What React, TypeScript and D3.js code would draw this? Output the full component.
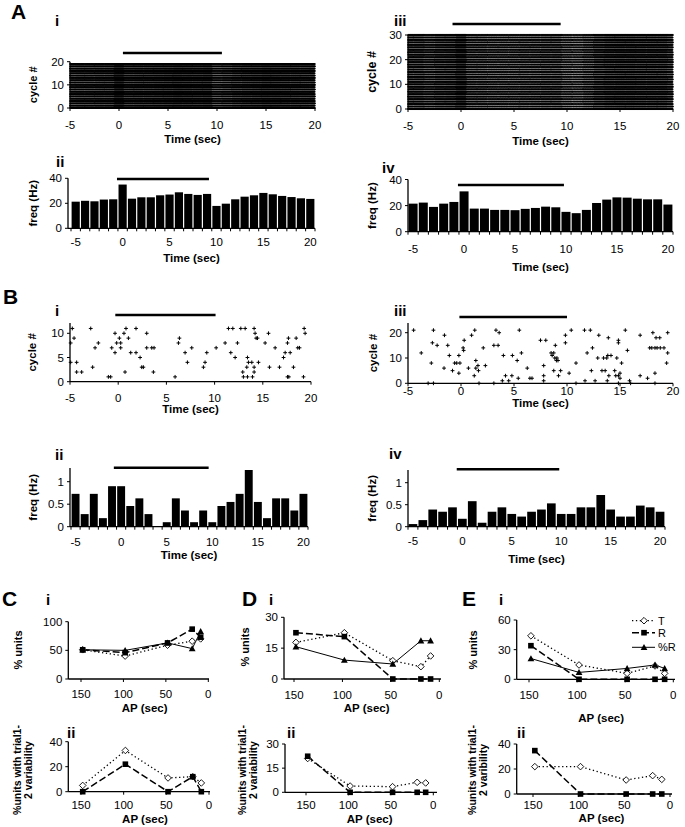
import React from 'react';
import * as d3 from 'd3';

const FONT = '"Liberation Sans", Arial, Helvetica, sans-serif';

// ---------------- data ----------------
const binCenters = [-5, -4, -3, -2, -1, 0, 1, 2, 3, 4, 5, 6, 7, 8, 9, 10, 11, 12, 13, 14, 15, 16, 17, 18, 19, 20];
const timeTicks = [-5, 0, 5, 10, 15, 20];

// firing-rate histograms (Hz), one value per 1-s bin
const freqAii = [21.3, 22, 21.6, 23, 23.2, 35, 23.7, 24.8, 24.8, 26.4, 27, 28.8, 27.5, 26.7, 27.5, 17.9, 19.7, 23.2, 25.3, 26.4, 28.3, 27.2, 25.9, 25, 24, 23.5];
const freqAiv = [21.5, 22.3, 19, 21.5, 22.8, 30.9, 17.7, 17.7, 16.7, 16.7, 16.5, 17.5, 18.2, 19.2, 18.7, 15.2, 14.2, 16.7, 22, 24.6, 26.3, 26.1, 25.3, 24.8, 24.8, 20.8];
const freqBii = [0.73, 0.28, 0.73, 0.19, 0.9, 0.9, 0.46, 0.63, 0.28, 0, 0.1, 0.63, 0.36, 0.1, 0.36, 0.1, 0.46, 0.55, 0.73, 1.26, 0.55, 0.19, 0.63, 0.63, 0.36, 0.73];
const freqBiv = [0.06, 0.15, 0.39, 0.34, 0.44, 0.18, 0.58, 0.09, 0.34, 0.44, 0.29, 0.23, 0.34, 0.39, 0.53, 0.29, 0.29, 0.44, 0.44, 0.72, 0.39, 0.23, 0.23, 0.48, 0.44, 0.34];

// number of cycles in the dense rasters A-i / A-iii
const cyclesAi = 20;
const cyclesAiii = 31;

// sparse rasters: [time (s), cycle #]
const spikesBi: [number, number][] = [
  [-4.76, 11], [-4.93, 8], [-4.58, 9], [-4.93, 4], [-4.31, 4], [-4.31, 2], [-3.79, 2], [-2.85, 11], [-2.65, 3], [-2.4, 7],
  [-2.06, 8], [-1.02, 1], [-0.78, 1], [-0.67, 7], [-0.33, 10], [-0.33, 6], [-0.16, 8], [0.12, 9], [0.26, 8], [0.26, 7],
  [0.6, 10], [0.81, 11], [1.06, 9], [0.71, 2], [1.3, 6], [1.85, 11], [1.85, 6], [2.27, 5], [2.44, 3], [2.61, 3],
  [2.96, 10], [2.96, 7], [3.48, 7], [3.72, 7], [3.65, 2], [5.9, 1], [6.35, 9], [6.25, 8], [6.94, 6], [7.18, 4],
  [7.63, 7], [8.84, 3], [9.01, 4], [9.19, 6], [10.16, 7], [11.09, 8], [11.44, 11], [11.89, 11], [11.68, 6], [12.13, 5],
  [12.37, 8], [12.72, 11], [13.17, 11], [12.92, 2], [12.99, 1], [13.41, 1], [13.41, 5], [13.51, 4], [13.86, 4], [13.34, 3],
  [14.1, 11], [14.2, 10], [14.31, 9], [14.45, 9], [14.1, 2], [13.93, 1], [14.1, 3], [14.55, 4], [15.59, 10], [15.24, 8],
  [15.69, 3], [16.28, 7], [16.73, 3], [17.32, 6], [17.15, 5], [17.56, 1], [17.66, 9], [17.56, 8], [17.84, 6], [18.18, 3],
  [18.46, 9], [18.63, 7], [18.81, 7], [19.22, 1], [19.29, 11], [19.39, 10], [17.7, 1],
];
const spikesBiii: [number, number][] = [
  [-4.47, 21], [-3.75, 12], [-2.6, 21], [-2.7, 16], [-2.25, 15], [-2.8, 8], [-3.1, 0], [-2.6, 0], [-1.56, 19], [-1.25, 15],
  [-1.1, 11], [-1.6, 6], [-0.8, 5], [-0.6, 8], [-0.4, 8], [-0.1, 8], [-0.2, 11], [-0.2, 4], [0.2, 14], [0.25, 13],
  [0.3, 17], [0.7, 6], [1.0, 19], [1.3, 21], [1.4, 9], [1.4, 6], [1.6, 7], [1.65, 5], [1.25, 3], [1.7, 0],
  [2.1, 14], [2.3, 7], [3.1, 15], [3.5, 15], [3.3, 21], [3.6, 20], [3.1, 0], [4.0, 11], [4.2, 3], [3.9, 1],
  [4.5, 1], [4.8, 3], [4.85, 11], [5.3, 9], [5.5, 21], [5.4, 2], [5.7, 12], [6.25, 6], [6.5, 2], [6.7, 2],
  [7.5, 17], [8.0, 17], [7.8, 7], [7.8, 3], [7.8, 1], [8.5, 12], [8.6, 11], [8.75, 12], [8.75, 5], [8.9, 15],
  [8.85, 10], [9.0, 9], [9.05, 10], [9.15, 9], [9.4, 5], [9.2, 3], [9.85, 19], [9.85, 16], [10.2, 4], [10.4, 21],
  [10.85, 0], [10.85, 8], [11.65, 21], [11.9, 12], [11.7, 1], [12.2, 21], [12.4, 14], [12.3, 5], [12.65, 1], [12.9, 10],
  [13.0, 19], [13.3, 5], [13.45, 10], [13.6, 5], [13.8, 1], [13.75, 10], [13.85, 11], [13.95, 3], [14.15, 11], [13.9, 18],
  [14.5, 5], [14.6, 3], [14.7, 10], [14.85, 16], [14.85, 17], [14.85, 3], [15.0, 2], [14.85, 0], [15.0, 4], [15.15, 8],
  [15.5, 21], [15.7, 13], [15.9, 1], [16.0, 0], [16.9, 19], [16.9, 3], [17.6, 2], [18.1, 20], [18.4, 18], [18.75, 18],
  [17.8, 14], [18.0, 14], [18.3, 14], [18.5, 14], [18.8, 14], [19.15, 14], [18.3, 4], [18.3, 0], [19.5, 20], [19.5, 12],
  [19.4, 8],
];

// stimulus bars [start, end] in seconds
const stimAi = [0.4, 10.5];
const stimAiii = [-0.8, 9.4];
const stimAii = [-0.6, 9.2];
const stimAiv = [-0.6, 9.8];
const stimBi = [-0.3, 10.1];
const stimBiii = [-0.15, 10];
const stimBii = [-0.8, 9.6];
const stimBiv = [-0.57, 9.8];

// AP line charts
const apValues = [148, 98, 48, 19, 9];
const apTicks = [150, 100, 50, 0];
const seriesNames = ['T', 'R', '%R'];

const CiT = [51, 40, 59, 66, 70];
const CiR = [51, 46, 63, 87, 73];
const CiPR = [51, 50, 63, 53, 83];
const CiiT = [5, 33, 11, 12, 7];
const CiiR = [0, 22, 0, 12, 0];

const DiT = [17.8, 22.5, 8.9, 6, 11.2];
const DiR = [22.5, 20.6, 0, 0, 0];
const DiPR = [15.7, 9.2, 7.3, 18.6, 18.6];
const DiiT = [21, 3.9, 3.5, 6.2, 5.8];
const DiiR = [22.4, 0, 0, 0, 0];

const EiT = [44, 14.5, 6, 13.5, 6];
const EiR = [34, 0, 0, 0, 0];
const EiPR = [21, 7, 11, 14.5, 11];
const EiiT = [21.9, 21.9, 11.2, 14.7, 11.7];
const EiiR = [34.7, 0, 0, 0, 0];

// ---------------- helpers ----------------
type Scale = d3.ScaleLinear<number, number>;

// expand a per-second firing-rate histogram into a raster of the given number of cycles
function spikesFromRate(rates: number[], nCycles: number): [number, number][] {
  const out: [number, number][] = [];
  for (let c = 0; c < nCycles; c++) {
    rates.forEach((r, k) => {
      const n = Math.round(r);
      const phase = (c * 0.618 + k * 0.31) % 1;
      const t0 = binCenters[k] - 0.5;
      for (let j = 0; j < n; j++) {
        const t = t0 + (j + phase) / n;
        if (t >= -5 && t <= 20) out.push([t, c]);
      }
    });
  }
  return out;
}

function Txt(p: { x: number; y: number; children: any; size?: number; bold?: boolean; anchor?: string; rotate?: boolean }) {
  const { x, y, children, size = 11.5, bold = false, anchor = 'middle', rotate = false } = p;
  return (
    <text
      x={rotate ? 0 : x}
      y={rotate ? 0 : y}
      transform={rotate ? `translate(${x},${y}) rotate(-90)` : undefined}
      fontFamily={FONT}
      fontSize={size}
      fontWeight={bold ? 'bold' : 'normal'}
      textAnchor={anchor as any}
      dominantBaseline="central"
      fill="#000"
    >
      {children}
    </text>
  );
}

function XAxis(p: { xs: Scale; y: number; from: number; to: number; tickVals: number[]; labelVals: number[]; labelY: number; size?: number }) {
  const { xs, y, from, to, tickVals, labelVals, labelY, size = 11.5 } = p;
  return (
    <g>
      <line x1={from} x2={to} y1={y} y2={y} stroke="#000" strokeWidth={1.3} />
      {tickVals.map((v, i) => (
        <line key={'t' + i} x1={xs(v)} x2={xs(v)} y1={y} y2={y + 3} stroke="#000" strokeWidth={1} />
      ))}
      {labelVals.map((v, i) => (
        <Txt key={'l' + i} x={xs(v)} y={labelY} size={size}>{String(v)}</Txt>
      ))}
    </g>
  );
}

function YAxis(p: { ys: Scale; x: number; top: number; tickVals: number[]; size?: number }) {
  const { ys, x, top, tickVals, size = 11.5 } = p;
  return (
    <g>
      <line x1={x} x2={x} y1={ys(0)} y2={top} stroke="#000" strokeWidth={1.3} />
      {tickVals.map((v, i) => (
        <line key={'t' + i} x1={x - 3} x2={x} y1={ys(v)} y2={ys(v)} stroke="#000" strokeWidth={1} />
      ))}
      {tickVals.map((v, i) => (
        <Txt key={'l' + i} x={x - 6} y={ys(v)} size={size} anchor="end">{String(v)}</Txt>
      ))}
    </g>
  );
}

function StimBar({ xs, y, span }: { xs: Scale; y: number; span: number[] }) {
  return <line x1={xs(span[0])} x2={xs(span[1])} y1={y} y2={y} stroke="#000" strokeWidth={2.4} />;
}

function DenseRaster(p: { x0: number; x1: number; y0: number; yTop: number; maxTick: number; yTicks: number[]; rates: number[]; nCycles: number; stim: number[]; stimY: number; labelY: number; titleY: number; ylabX: number; ylabSize: number }) {
  const xs = d3.scaleLinear().domain([-5, 20]).range([p.x0, p.x1]);
  const ys = d3.scaleLinear().domain([0, p.maxTick]).range([p.y0, p.yTop]);
  const spikes = spikesFromRate(p.rates, p.nCycles);
  const h = Math.abs(ys(1) - ys(0)) * 0.42;
  let d = '';
  for (const [t, c] of spikes) {
    const x = xs(t);
    const y = ys(c);
    d += `M${x.toFixed(2)},${(y - h).toFixed(2)}v${(2 * h).toFixed(2)}M${(x - 1).toFixed(2)},${y.toFixed(2)}h2`;
  }
  return (
    <g>
      <path d={d} stroke="#000" strokeWidth={0.75} fill="none" />
      <XAxis xs={xs} y={p.y0} from={p.x0} to={p.x1} tickVals={timeTicks} labelVals={timeTicks} labelY={p.labelY} />
      <YAxis ys={ys} x={p.x0} top={p.yTop} tickVals={p.yTicks} />
      <StimBar xs={xs} y={p.stimY} span={p.stim} />
      <Txt x={(p.x0 + p.x1) / 2} y={p.titleY} bold>Time (sec)</Txt>
      <Txt x={p.ylabX} y={(p.y0 + p.yTop) / 2} bold rotate size={p.ylabSize}>cycle #</Txt>
    </g>
  );
}

function SparseRaster(p: { x0: number; x1: number; y0: number; yMaxPx: number; maxTick: number; top: number; yTicks: number[]; spikes: [number, number][]; stim: number[]; stimY: number; labelY: number; titleY: number; ylabX: number }) {
  const xs = d3.scaleLinear().domain([-5, 20]).range([p.x0, p.x1]);
  const ys = d3.scaleLinear().domain([0, p.maxTick]).range([p.y0, p.yMaxPx]);
  const s = 1.9;
  let d = '';
  for (const [t, c] of p.spikes) {
    const x = xs(t);
    const y = ys(c);
    d += `M${(x - s).toFixed(2)},${y.toFixed(2)}h${2 * s}M${x.toFixed(2)},${(y - s).toFixed(2)}v${2 * s}`;
  }
  return (
    <g>
      <path d={d} stroke="#000" strokeWidth={1} fill="none" />
      <XAxis xs={xs} y={p.y0} from={p.x0} to={p.x1} tickVals={timeTicks} labelVals={timeTicks} labelY={p.labelY} />
      <YAxis ys={ys} x={p.x0} top={p.top} tickVals={p.yTicks} />
      <StimBar xs={xs} y={p.stimY} span={p.stim} />
      <Txt x={(p.x0 + p.x1) / 2} y={p.titleY} bold>Time (sec)</Txt>
      <Txt x={p.ylabX} y={(p.y0 + p.top) / 2} bold rotate>cycle #</Txt>
    </g>
  );
}

function Histogram(p: { axisX: number; x0: number; x1: number; y0: number; yMaxPx: number; maxTick: number; top: number; yTicks: number[]; values: number[]; stim: number[]; stimY: number; labelY: number; titleY: number; ylabX: number }) {
  const xs = d3.scaleLinear().domain([binCenters[0] - 0.5, binCenters[binCenters.length - 1] + 0.5]).range([p.x0, p.x1]);
  const ys = d3.scaleLinear().domain([0, p.maxTick]).range([p.y0, p.yMaxPx]);
  const bw = xs(1) - xs(0);
  const edges = binCenters.map((c) => c - 0.5).concat([binCenters[binCenters.length - 1] + 0.5]);
  return (
    <g>
      {p.values.map((v, i) => (
        <rect key={i} x={xs(binCenters[i] - 0.5) + 0.6} width={bw - 1.2} y={ys(v)} height={ys(0) - ys(v)} fill="#000" />
      ))}
      <XAxis xs={xs} y={p.y0} from={p.axisX} to={p.x1} tickVals={edges} labelVals={timeTicks} labelY={p.labelY} />
      <YAxis ys={ys} x={p.axisX} top={p.top} tickVals={p.yTicks} />
      <StimBar xs={xs} y={p.stimY} span={p.stim} />
      <Txt x={(p.axisX + p.x1) / 2} y={p.titleY} bold>Time (sec)</Txt>
      <Txt x={p.ylabX} y={(p.y0 + p.top) / 2} bold rotate>freq (Hz)</Txt>
    </g>
  );
}

function Marker({ kind, x, y }: { kind: string; x: number; y: number }) {
  if (kind === 'T') {
    const r = 3.3;
    return <path d={`M${x},${y - r}L${x + r},${y}L${x},${y + r}L${x - r},${y}Z`} fill="#fff" stroke="#000" strokeWidth={0.9} />;
  }
  if (kind === 'R') return <rect x={x - 2.8} y={y - 2.8} width={5.6} height={5.6} fill="#000" />;
  const r = 3.4;
  return <path d={`M${x},${y - r}L${x + r},${y + r * 0.8}L${x - r},${y + r * 0.8}Z`} fill="#000" />;
}

const lineStyle: Record<string, { dash?: string; width: number }> = {
  T: { dash: '1.3,2.6', width: 1.3 },
  R: { dash: '7,3', width: 1.5 },
  '%R': { width: 1 },
};

function LineChart(p: {
  axisX: number; px150: number; px0: number; axisEnd: number; y0: number; yMaxPx: number; maxTick: number; yTicks: number[];
  series: { name: string; values: number[] }[]; labelY: number; titleY: number; ylab: string[]; ylabX: number[]; ylabY: number; ylabSize: number;
}) {
  const xs = d3.scaleLinear().domain([150, 0]).range([p.px150, p.px0]);
  const ys = d3.scaleLinear().domain([0, p.maxTick]).range([p.y0, p.yMaxPx]);
  const line = d3.line<number>().x((_, i) => xs(apValues[i])).y((v) => ys(v));
  return (
    <g>
      <XAxis xs={xs} y={p.y0} from={p.axisX} to={p.axisEnd} tickVals={apTicks} labelVals={apTicks} labelY={p.labelY} />
      <YAxis ys={ys} x={p.axisX} top={p.yMaxPx} tickVals={p.yTicks} />
      {p.series.map((s) => (
        <path key={'l' + s.name} d={line(s.values) || ''} fill="none" stroke="#000" strokeWidth={lineStyle[s.name].width} strokeDasharray={lineStyle[s.name].dash} />
      ))}
      {p.series.map((s) => (
        <g key={'m' + s.name}>
          {s.values.map((v, i) => (
            <Marker key={i} kind={s.name} x={xs(apValues[i])} y={ys(v)} />
          ))}
        </g>
      ))}
      <Txt x={(p.px150 + p.px0) / 2} y={p.titleY} bold size={11.5}>AP (sec)</Txt>
      {p.ylab.map((t, i) => (
        <Txt key={i} x={p.ylabX[i]} y={p.ylabY} bold rotate size={p.ylabSize}>{t}</Txt>
      ))}
    </g>
  );
}

function Legend({ x, y, gap }: { x: number; y: number; gap: number[] }) {
  return (
    <g>
      {seriesNames.map((n, i) => (
        <g key={n}>
          <line x1={x} x2={x + 23} y1={y + gap[i]} y2={y + gap[i]} stroke="#000" strokeWidth={lineStyle[n].width} strokeDasharray={lineStyle[n].dash} />
          <Marker kind={n} x={x + 12} y={y + gap[i]} />
          <Txt x={x + 26} y={y + gap[i]} anchor="start" size={11}>{n}</Txt>
        </g>
      ))}
    </g>
  );
}

const Letter = ({ x, y, t }: { x: number; y: number; t: string }) => (
  <text x={x} y={y} fontFamily={FONT} fontSize={21} fontWeight="bold" fill="#000">{t}</text>
);
const Roman = ({ x, y, t }: { x: number; y: number; t: string }) => (
  <text x={x} y={y} fontFamily={FONT} fontSize={15} fontWeight="bold" fill="#000">{t}</text>
);

export default function App() {
  return (
    <svg width={685} height={827} style={{ position: 'absolute', left: 0, top: 0, background: '#fff' }}>
      <rect width={685} height={827} fill="#fff" />
      {/* ---- A ---- */}
      <Letter x={11} y={19} t="A" />
      <Roman x={55} y={26} t="i" />
      <Roman x={394} y={26} t="iii" />
      <Roman x={56} y={167} t="ii" />
      <Roman x={382} y={173} t="iv" />
      <DenseRaster x0={70} x1={315} y0={108} yTop={61.7} maxTick={20} yTicks={[0, 10, 20]} rates={freqAii} nCycles={cyclesAi}
        stim={stimAi} stimY={53} labelY={125} titleY={139} ylabX={33} ylabSize={11} />
      <DenseRaster x0={408} x1={673} y0={109} yTop={35} maxTick={30} yTicks={[0, 10, 20, 30]} rates={freqAiv} nCycles={cyclesAiii}
        stim={stimAiii} stimY={24} labelY={126} titleY={141} ylabX={372} ylabSize={12.5} />
      <Histogram axisX={68} x0={71} x1={315} y0={228.3} yMaxPx={178.3} maxTick={40} top={178.3} yTicks={[0, 20, 40]} values={freqAii}
        stim={stimAii} stimY={179} labelY={242} titleY={258} ylabX={33} />
      <Histogram axisX={408} x0={408} x1={673} y0={231.7} yMaxPx={179.5} maxTick={40} top={179.5} yTicks={[0, 20, 40]} values={freqAiv}
        stim={stimAiv} stimY={185} labelY={249} titleY={267} ylabX={372} />

      {/* ---- B ---- */}
      <Letter x={3} y={304} t="B" />
      <Roman x={55} y={316} t="i" />
      <Roman x={394} y={316} t="iii" />
      <Roman x={55} y={460} t="ii" />
      <Roman x={389} y={459} t="iv" />
      <SparseRaster x0={70} x1={311} y0={381.7} yMaxPx={333.3} maxTick={10} top={323} yTicks={[0, 5, 10]} spikes={spikesBi}
        stim={stimBi} stimY={315} labelY={398} titleY={409} ylabX={32} />
      <SparseRaster x0={408} x1={673} y0={383.3} yMaxPx={332.7} maxTick={20} top={323} yTicks={[0, 10, 20]} spikes={spikesBiii}
        stim={stimBiii} stimY={317} labelY={391} titleY={403} ylabX={373} />
      <Histogram axisX={70} x0={71} x1={308} y0={526.7} yMaxPx={481.7} maxTick={1} top={468} yTicks={[0, 0.5, 1]} values={freqBii}
        stim={stimBii} stimY={467.7} labelY={542} titleY={555} ylabX={33} />
      <Histogram axisX={408} x0={408} x1={665} y0={526.7} yMaxPx={482.7} maxTick={1} top={470} yTicks={[0, 0.5, 1]} values={freqBiv}
        stim={stimBiv} stimY={469.3} labelY={541} titleY={559} ylabX={372} />

      {/* ---- C ---- */}
      <Letter x={2} y={606} t="C" />
      <Roman x={46} y={605} t="i" />
      <Roman x={67} y={738} t="ii" />
      <LineChart axisX={68.3} px150={81} px0={208.3} axisEnd={209} y0={679} yMaxPx={621.7} maxTick={100} yTicks={[0, 50, 100]}
        series={[{ name: 'T', values: CiT }, { name: 'R', values: CiR }, { name: '%R', values: CiPR }]}
        labelY={694} titleY={708} ylab={['% units']} ylabX={[18]} ylabY={650} ylabSize={11} />
      <LineChart axisX={68.3} px150={81} px0={209} axisEnd={210} y0={791.7} yMaxPx={741.7} maxTick={40} yTicks={[0, 20, 40]}
        series={[{ name: 'T', values: CiiT }, { name: 'R', values: CiiR }]}
        labelY={805} titleY={819} ylab={['%units with trial1-', '2 variability']} ylabX={[17, 28]} ylabY={770} ylabSize={10.5} />

      {/* ---- D ---- */}
      <Letter x={242} y={606} t="D" />
      <Roman x={269} y={605} t="i" />
      <Roman x={287} y={738} t="ii" />
      <LineChart axisX={284} px150={294} px0={439.3} axisEnd={441} y0={679} yMaxPx={617.3} maxTick={30} yTicks={[0, 15, 30]}
        series={[{ name: 'T', values: DiT }, { name: 'R', values: DiR }, { name: '%R', values: DiPR }]}
        labelY={695} titleY={708} ylab={['% units']} ylabX={[245]} ylabY={647} ylabSize={11} />
      <LineChart axisX={285} px150={306} px0={433.3} axisEnd={437} y0={792.3} yMaxPx={744} maxTick={30} yTicks={[0, 15, 30]}
        series={[{ name: 'T', values: DiiT }, { name: 'R', values: DiiR }]}
        labelY={805} titleY={819} ylab={['%units with trial1-', '2 variability']} ylabX={[242, 253]} ylabY={770} ylabSize={10.5} />

      {/* ---- E ---- */}
      <Letter x={462} y={606} t="E" />
      <Roman x={499} y={605} t="i" />
      <Roman x={517} y={738} t="ii" />
      <LineChart axisX={516.7} px150={529} px0={673.3} axisEnd={675} y0={679.3} yMaxPx={620} maxTick={60} yTicks={[0, 30, 60]}
        series={[{ name: 'T', values: EiT }, { name: 'R', values: EiR }, { name: '%R', values: EiPR }]}
        labelY={695} titleY={718} ylab={['% units']} ylabX={[473]} ylabY={650} ylabSize={11} />
      <Legend x={632} y={620.7} gap={[0, 12, 26.6]} />
      <LineChart axisX={516.7} px150={533} px0={670} axisEnd={672} y0={794} yMaxPx={744} maxTick={40} yTicks={[0, 20, 40]}
        series={[{ name: 'T', values: EiiT }, { name: 'R', values: EiiR }]}
        labelY={805} titleY={818} ylab={['%units with trial1-', '2 varibility']} ylabX={[472, 483]} ylabY={770} ylabSize={10.5} />
    </svg>
  );
}
